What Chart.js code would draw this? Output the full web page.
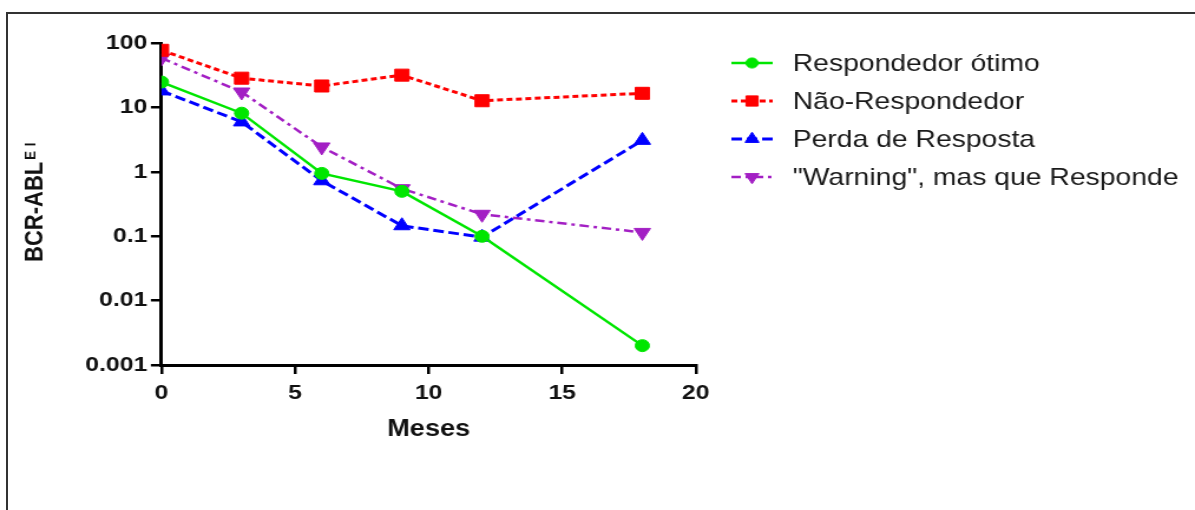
<!DOCTYPE html>
<html><head><meta charset="utf-8">
<script src="https://cdn.jsdelivr.net/npm/chart.js@4/dist/chart.umd.min.js"></script>
<style>
html,body{margin:0;padding:0;background:#fff;overflow:hidden;width:1195px;height:510px;}
#frame{position:absolute;left:6px;top:12px;width:1400px;height:800px;border:2px solid #333;box-sizing:border-box;}
#wrap{position:absolute;left:0;top:0;width:1013px;height:510px;transform:scaleX(1.17966);transform-origin:0 0;}
</style></head><body>
<div id="frame"></div>
<div id="wrap"><canvas id="c" width="1013" height="510"></canvas></div>
<script>
// ---- data ----
const months = [0, 3, 6, 9, 12, 18];
const seriesNames = ['Respondedor ótimo', 'Não-Respondedor', 'Perda de Resposta', '"Warning", mas que Responde'];
const respondedorOtimo = [25, 8.2, 0.95, 0.5, 0.1, 0.002];
const naoRespondedor = [78, 28.7, 21.7, 32, 12.8, 16.7];
const perdaResposta = [18.2, 6, 0.73, 0.146, 0.097, 3.1];
const warningResponde = [59, 17.5, 2.45, 0.55, 0.22, 0.115];
const yTicks = [0.001, 0.01, 0.1, 1, 10, 100];
const yTickLabels = ['0.001', '0.01', '0.1', '1', '10', '100'];
const xTicks = [0, 5, 10, 15, 20];
const xTitle = 'Meses';
const yTitle = 'BCR-ABL';
const yTitleSup = 'EI';

// ---- styles ----
const FONT = "'Liberation Sans', Arial, sans-serif";
const styles = [
  {color:'#00e600', dash:[], width:2.5, point:'circle', radius:6, rotation:0},
  {color:'#ff0000', dash:[5,3], width:3, point:'rect', radius:8.5, rotation:0},
  {color:'#0000ff', dash:[9,4], width:3, point:'triangle', radius:8, rotation:0},
  {color:'#a31fc4', dash:[8,4,3,4], width:2.5, point:'triangle', radius:8, rotation:180}
];
const values = [respondedorOtimo, naoRespondedor, perdaResposta, warningResponde];

const datasets = values.map((vals, i) => ({
  label: seriesNames[i],
  data: months.map((m, j) => ({x: m, y: vals[j]})),
  borderColor: styles[i].color,
  backgroundColor: styles[i].color,
  borderWidth: styles[i].width,
  borderDash: styles[i].dash,
  pointStyle: styles[i].point,
  pointRadius: styles[i].radius,
  pointRotation: styles[i].rotation,
  pointBorderWidth: 1,
  pointBackgroundColor: styles[i].color,
  pointBorderColor: styles[i].color,
  tension: 0,
  fill: false
}));

const CHART_LEFT = 136.9, CHART_RIGHT = 589.8, CHART_TOP = 43.3, CHART_BOTTOM = 365;
const W = 1013, H = 510;

const legendPlugin = {
  id: 'sideLegend',
  afterDraw(chart) {
    const ctx = chart.ctx;
    chart.data.datasets.forEach((ds, i) => {
      const y = 63 + i * 38;
      ctx.save();
      ctx.strokeStyle = ds.borderColor;
      ctx.lineWidth = ds.borderWidth;
      ctx.setLineDash(ds.borderDash || []);
      ctx.beginPath();
      ctx.moveTo(620, y);
      ctx.lineTo(655, y);
      ctx.stroke();
      ctx.setLineDash([]);
      ctx.fillStyle = ds.pointBackgroundColor;
      ctx.strokeStyle = ds.pointBorderColor;
      ctx.lineWidth = 1;
      Chart.helpers.drawPoint(ctx, {pointStyle: ds.pointStyle, radius: ds.pointRadius * 0.85, rotation: ds.pointRotation, borderWidth: 1}, 637.5, y);
      ctx.fillStyle = '#1a1a1a';
      ctx.font = '24px ' + FONT;
      ctx.textBaseline = 'middle';
      ctx.textAlign = 'left';
      ctx.fillText(ds.label, 672, y + 1);
      ctx.restore();
    });
  }
};

const yTitlePlugin = {
  id: 'yTitleSup',
  afterDraw(chart) {
    const ctx = chart.ctx;
    ctx.save();
    ctx.translate(36.4, 262);
    ctx.rotate(-Math.PI / 2);
    ctx.fillStyle = '#111';
    ctx.textBaseline = 'alphabetic';
    ctx.textAlign = 'left';
    ctx.font = 'bold 22px ' + FONT;
    ctx.fillText(yTitle, 0, 0);
    const w = ctx.measureText(yTitle).width;
    ctx.font = 'bold 13px ' + FONT;
    try { ctx.letterSpacing = '5px'; } catch (e) {}
    ctx.fillText(yTitleSup, w + 2, -6);
    ctx.restore();
  }
};

new Chart(document.getElementById('c'), {
  type: 'line',
  data: { datasets },
  plugins: [legendPlugin, yTitlePlugin],
  options: {
    responsive: false,
    animation: false,
    events: [],
    layout: { padding: { left: 0, top: CHART_TOP, right: W - CHART_RIGHT, bottom: 0 } },
    plugins: { legend: { display: false }, tooltip: { enabled: false } },
    scales: {
      x: {
        type: 'linear',
        min: 0, max: 20,
        afterFit(scale) { scale.height = H - CHART_BOTTOM; },
        afterBuildTicks(scale) { scale.ticks = xTicks.map(v => ({value: v})); },
        ticks: { color: '#111', padding: 7, font: { family: FONT, size: 21, weight: 'bold' }, callback: v => String(v) },
        grid: { drawOnChartArea: false, drawTicks: true, tickLength: 9, color: '#000', lineWidth: 2.5 },
        border: { display: true, color: '#000', width: 3 },
        title: { display: true, text: xTitle, color: '#111', font: { family: FONT, size: 23, weight: 'bold' }, padding: { top: 0, bottom: 67 } }
      },
      y: {
        type: 'logarithmic',
        min: 0.001, max: 100,
        afterFit(scale) { scale.width = CHART_LEFT; },
        afterBuildTicks(scale) { scale.ticks = yTicks.map(v => ({value: v})); },
        ticks: { color: '#111', padding: 3, font: { family: FONT, size: 21, weight: 'bold' },
          callback: (v) => { const k = yTicks.findIndex(t => Math.abs(t - v) / t < 1e-6); return k >= 0 ? yTickLabels[k] : ''; } },
        grid: { drawOnChartArea: false, drawTicks: true, tickLength: 9, color: '#000', lineWidth: 2.5 },
        border: { display: true, color: '#000', width: 3 }
      }
    }
  }
});
</script>
</body></html>
